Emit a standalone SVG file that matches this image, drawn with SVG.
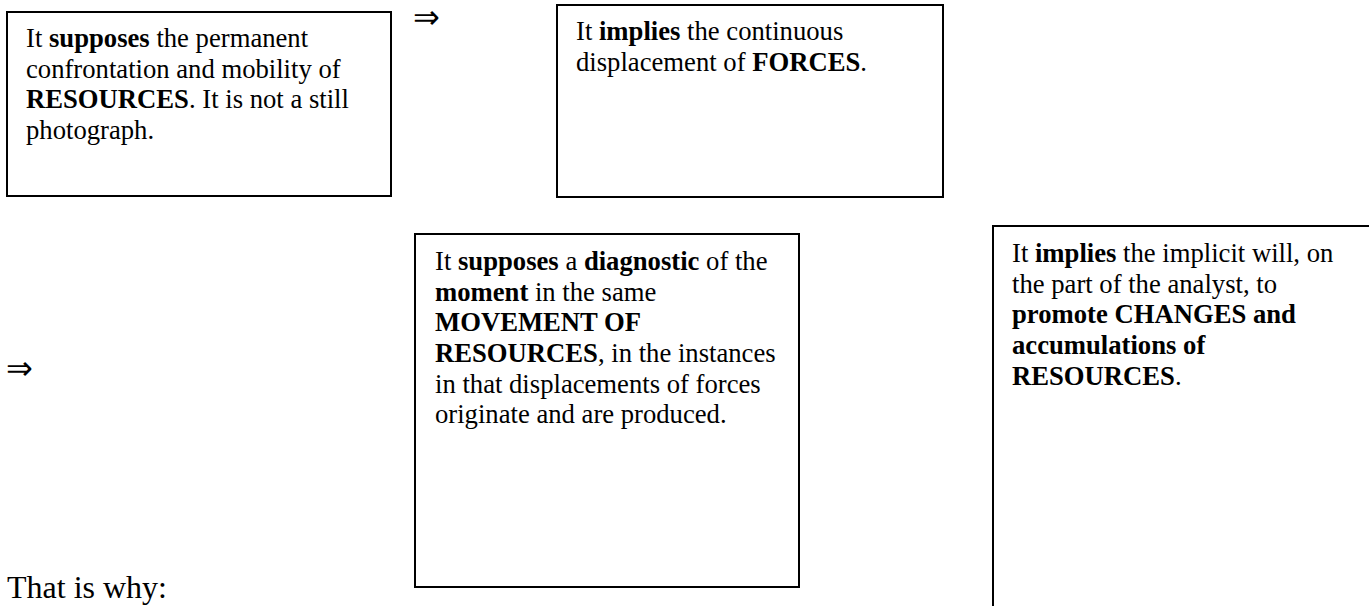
<svg xmlns="http://www.w3.org/2000/svg" width="1369" height="606" viewBox="0 0 1369 606">
  <style>
    .box { fill: #ffffff; stroke: #000000; stroke-width: 2; }
    .txt { font-family: "Liberation Serif", "Times New Roman", serif; font-size: 26.67px; fill: #000000; }
    .b { font-weight: bold; }
    .arrow { font-family: "DejaVu Sans", "Liberation Serif", sans-serif; font-size: 32px; fill: #000000; }
    .caption { font-family: "Liberation Serif", "Times New Roman", serif; font-size: 32px; fill: #000000; }
  </style>
  <rect x="0" y="0" width="1369" height="606" fill="#ffffff"/>

  <!-- resources in motion -->
  <g id="node-resources">
    <rect class="box" x="7" y="12" width="384" height="184"/>
    <text class="txt" x="26" y="47">It <tspan class="b">supposes</tspan> the permanent</text>
    <text class="txt" x="26" y="77.7">confrontation and mobility of</text>
    <text class="txt" x="26" y="108.3"><tspan class="b">RESOURCES</tspan>. It is not a still</text>
    <text class="txt" x="26" y="139">photograph.</text>
  </g>

  <!-- displacement of forces -->
  <g id="node-forces">
    <rect class="box" x="557" y="5" width="386" height="192"/>
    <text class="txt" x="576" y="40">It <tspan class="b">implies</tspan> the continuous</text>
    <text class="txt" x="576" y="70.7">displacement of <tspan class="b">FORCES</tspan>.</text>
  </g>

  <!-- diagnostic of the moment -->
  <g id="node-diagnostic">
    <rect class="box" x="415" y="234" width="384" height="353"/>
    <text class="txt" x="435" y="270">It <tspan class="b">supposes</tspan> a <tspan class="b">diagnostic</tspan> of the</text>
    <text class="txt" x="435" y="300.7"><tspan class="b">moment</tspan> in the same</text>
    <text class="txt" x="435" y="331.3" font-weight="bold">MOVEMENT OF</text>
    <text class="txt" x="435" y="362"><tspan class="b">RESOURCES</tspan>, in the instances</text>
    <text class="txt" x="435" y="392.7">in that displacements of forces</text>
    <text class="txt" x="435" y="423.3">originate and are produced.</text>
  </g>

  <!-- will to promote changes -->
  <g id="node-changes">
    <rect class="box" x="993" y="226" width="400" height="400"/>
    <text class="txt" x="1012" y="262">It <tspan class="b">implies</tspan> the implicit will, on</text>
    <text class="txt" x="1012" y="292.7">the part of the analyst, to</text>
    <text class="txt" x="1012" y="323.3" font-weight="bold">promote CHANGES and</text>
    <text class="txt" x="1012" y="354" font-weight="bold">accumulations of</text>
    <text class="txt" x="1012" y="384.7"><tspan class="b">RESOURCES</tspan>.</text>
  </g>

  <!-- implication arrows -->
  <g id="connectors">
    <text class="arrow" x="413" y="28">⇒</text>
    <text class="arrow" x="6" y="379">⇒</text>
  </g>

  <g id="caption">
    <text class="caption" x="7" y="598">That is why:</text>
  </g>
</svg>
